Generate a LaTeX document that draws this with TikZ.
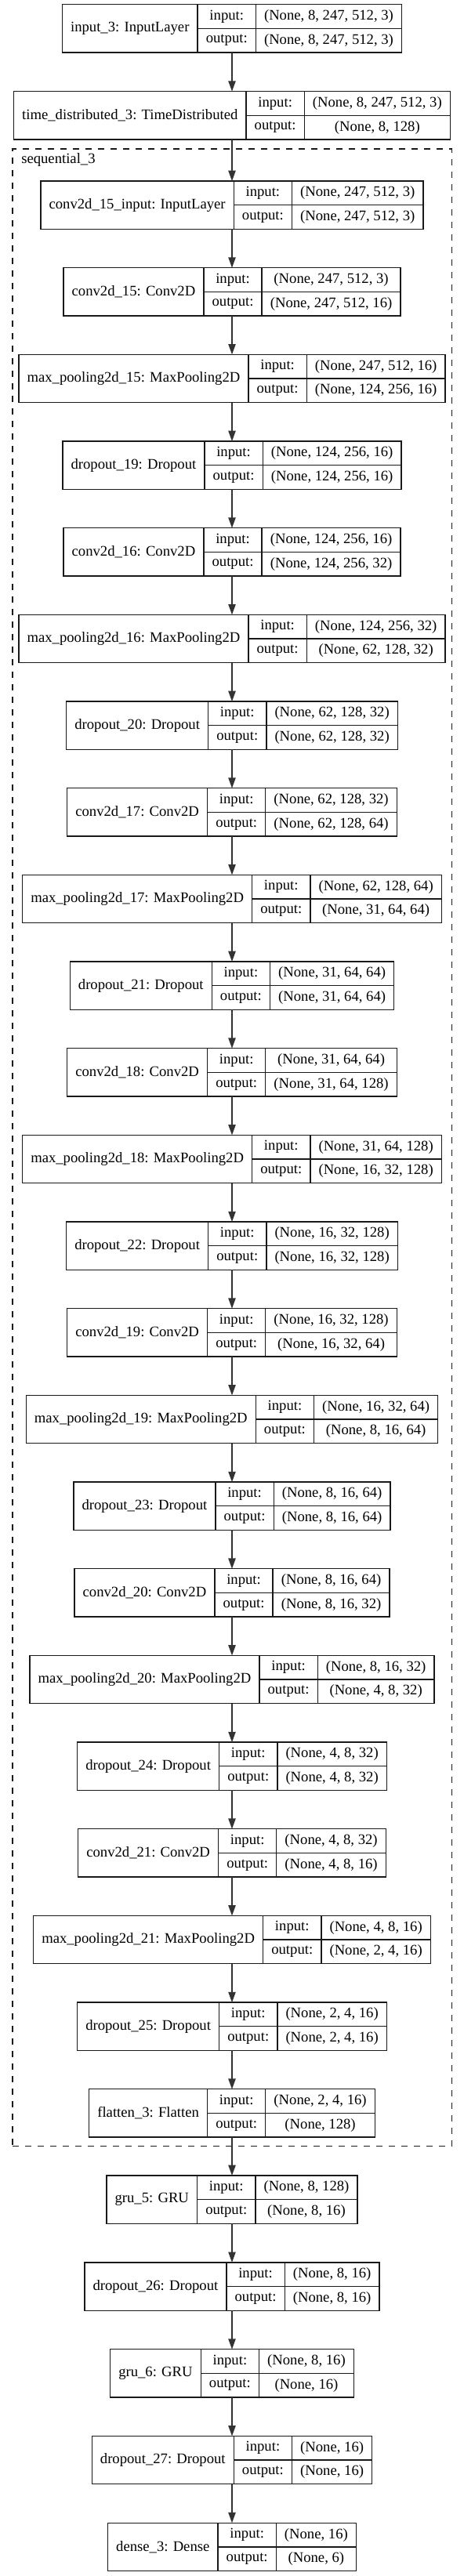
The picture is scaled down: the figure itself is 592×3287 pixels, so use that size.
\documentclass[tikz,border=0pt]{standalone}
\usepackage{fontspec}
\setmainfont{Liberation Serif}
\usetikzlibrary{arrows.meta,fit}
\newlength\wN \newlength\wL \newlength\wV \newlength\wTmp \newlength\wT
\newcommand\lfont{\fontsize{14}{16.8}\selectfont}
\tikzset{
  layerbox/.style={minimum height=46pt, inner sep=0pt, outer sep=0pt},
  cellbox/.style={draw=black!90, line width=1pt, minimum height=23pt, inner sep=0pt, outer sep=0pt, font=\lfont},
  flow/.style={-{Triangle[length=10pt,width=7pt]}, line width=1pt, draw=black!80, fill=black},
  cluster/.style={draw=black!90, dash pattern=on 6pt off 6pt, line width=1pt, inner sep=0pt, outer sep=0pt},
  clabel/.style={font=\lfont, anchor=west, inner sep=0pt}
}
% measure texts outside the picture (fonts are disabled inside it)
\newcommand\deflayer[4]{%
  \settowidth\wTmp{\lfont #2}\addtolength\wTmp{16pt}%
  \expandafter\xdef\csname LN#1\endcsname{\the\wTmp}%
  \settowidth\wTmp{\lfont #3}\settowidth\wV{\lfont #4}%
  \ifdim\wTmp>\wV \setlength\wV{\wTmp}\fi
  \addtolength\wV{16pt}%
  \expandafter\xdef\csname LV#1\endcsname{\the\wV}%
  \expandafter\gdef\csname TN#1\endcsname{#2}%
  \expandafter\gdef\csname TI#1\endcsname{#3}%
  \expandafter\gdef\csname TO#1\endcsname{#4}%
}
\newcommand\layer[2]{%
  \setlength\wN{\csname LN#1\endcsname}%
  \setlength\wV{\csname LV#1\endcsname}%
  \setlength\wT{\dimexpr\wN+\wL+\wV\relax}%
  \node[layerbox, minimum width=\wT] (#1) at (296,#2) {};
  \node[cellbox, minimum width=\wN, minimum height=46pt, anchor=north west] (#1-n) at (#1.north west) {\csname TN#1\endcsname};
  \node[cellbox, minimum width=\wL, anchor=north west] (#1-il) at (#1-n.north east) {input:};
  \node[cellbox, minimum width=\wL, anchor=north west] (#1-ol) at (#1-il.south west) {output:};
  \node[cellbox, minimum width=\wV, anchor=north west] (#1-iv) at (#1-il.north east) {\csname TI#1\endcsname};
  \node[cellbox, minimum width=\wV, anchor=north west] (#1-ov) at (#1-iv.south west) {\csname TO#1\endcsname};
}
\begin{document}%
\settowidth\wL{\lfont output:}\addtolength\wL{16pt}%
\deflayer{in3}{input\_3: InputLayer}{(None, 8, 247, 512, 3)}{(None, 8, 247, 512, 3)}%
\deflayer{td3}{time\_distributed\_3: TimeDistributed}{(None, 8, 247, 512, 3)}{(None, 8, 128)}%
\deflayer{c15in}{conv2d\_15\_input: InputLayer}{(None, 247, 512, 3)}{(None, 247, 512, 3)}%
\deflayer{c15}{conv2d\_15: Conv2D}{(None, 247, 512, 3)}{(None, 247, 512, 16)}%
\deflayer{mp15}{max\_pooling2d\_15: MaxPooling2D}{(None, 247, 512, 16)}{(None, 124, 256, 16)}%
\deflayer{do19}{dropout\_19: Dropout}{(None, 124, 256, 16)}{(None, 124, 256, 16)}%
\deflayer{c16}{conv2d\_16: Conv2D}{(None, 124, 256, 16)}{(None, 124, 256, 32)}%
\deflayer{mp16}{max\_pooling2d\_16: MaxPooling2D}{(None, 124, 256, 32)}{(None, 62, 128, 32)}%
\deflayer{do20}{dropout\_20: Dropout}{(None, 62, 128, 32)}{(None, 62, 128, 32)}%
\deflayer{c17}{conv2d\_17: Conv2D}{(None, 62, 128, 32)}{(None, 62, 128, 64)}%
\deflayer{mp17}{max\_pooling2d\_17: MaxPooling2D}{(None, 62, 128, 64)}{(None, 31, 64, 64)}%
\deflayer{do21}{dropout\_21: Dropout}{(None, 31, 64, 64)}{(None, 31, 64, 64)}%
\deflayer{c18}{conv2d\_18: Conv2D}{(None, 31, 64, 64)}{(None, 31, 64, 128)}%
\deflayer{mp18}{max\_pooling2d\_18: MaxPooling2D}{(None, 31, 64, 128)}{(None, 16, 32, 128)}%
\deflayer{do22}{dropout\_22: Dropout}{(None, 16, 32, 128)}{(None, 16, 32, 128)}%
\deflayer{c19}{conv2d\_19: Conv2D}{(None, 16, 32, 128)}{(None, 16, 32, 64)}%
\deflayer{mp19}{max\_pooling2d\_19: MaxPooling2D}{(None, 16, 32, 64)}{(None, 8, 16, 64)}%
\deflayer{do23}{dropout\_23: Dropout}{(None, 8, 16, 64)}{(None, 8, 16, 64)}%
\deflayer{c20}{conv2d\_20: Conv2D}{(None, 8, 16, 64)}{(None, 8, 16, 32)}%
\deflayer{mp20}{max\_pooling2d\_20: MaxPooling2D}{(None, 8, 16, 32)}{(None, 4, 8, 32)}%
\deflayer{do24}{dropout\_24: Dropout}{(None, 4, 8, 32)}{(None, 4, 8, 32)}%
\deflayer{c21}{conv2d\_21: Conv2D}{(None, 4, 8, 32)}{(None, 4, 8, 16)}%
\deflayer{mp21}{max\_pooling2d\_21: MaxPooling2D}{(None, 4, 8, 16)}{(None, 2, 4, 16)}%
\deflayer{do25}{dropout\_25: Dropout}{(None, 2, 4, 16)}{(None, 2, 4, 16)}%
\deflayer{fl3}{flatten\_3: Flatten}{(None, 2, 4, 16)}{(None, 128)}%
\deflayer{gru5}{gru\_5: GRU}{(None, 8, 128)}{(None, 8, 16)}%
\deflayer{do26}{dropout\_26: Dropout}{(None, 8, 16)}{(None, 8, 16)}%
\deflayer{gru6}{gru\_6: GRU}{(None, 8, 16)}{(None, 16)}%
\deflayer{do27}{dropout\_27: Dropout}{(None, 16)}{(None, 16)}%
\deflayer{de3}{dense\_3: Dense}{(None, 16)}{(None, 6)}%
\begin{tikzpicture}[x=0.75pt,y=-0.75pt]
\fill[white] (0,0) rectangle (592,3287);
\useasboundingbox (0,0) rectangle (592,3287);

\node[cluster, fit={(15.9,190) (576.5,2738.3)}] (seq) {};
\node[clabel] (seqlabel) at (27,204.5) {sequential\_3};

\layer{in3}{36.3}
\layer{td3}{147.3}
\layer{c15in}{261.7}
\layer{c15}{372.37}
\layer{mp15}{483.04}
\layer{do19}{593.71}
\layer{c16}{704.38}
\layer{mp16}{815.05}
\layer{do20}{925.72}
\layer{c17}{1036.39}
\layer{mp17}{1147.06}
\layer{do21}{1257.73}
\layer{c18}{1368.4}
\layer{mp18}{1479.07}
\layer{do22}{1589.74}
\layer{c19}{1700.41}
\layer{mp19}{1811.08}
\layer{do23}{1921.75}
\layer{c20}{2032.42}
\layer{mp20}{2143.09}
\layer{do24}{2253.76}
\layer{c21}{2364.43}
\layer{mp21}{2475.1}
\layer{do25}{2585.77}
\layer{fl3}{2696.44}
\layer{gru5}{2806.7}
\layer{do26}{2917.5}
\layer{gru6}{3028.3}
\layer{do27}{3139.1}
\layer{de3}{3249.9}

\foreach \a/\b in {in3/td3, td3/c15in, c15in/c15, c15/mp15, mp15/do19, do19/c16,
  c16/mp16, mp16/do20, do20/c17, c17/mp17, mp17/do21, do21/c18, c18/mp18,
  mp18/do22, do22/c19, c19/mp19, mp19/do23, do23/c20, c20/mp20, mp20/do24,
  do24/c21, c21/mp21, mp21/do25, do25/fl3, fl3/gru5, gru5/do26, do26/gru6,
  gru6/do27, do27/de3}
  \draw[flow] (\a.south) -- (\b.north);
\end{tikzpicture}%
\end{document}
